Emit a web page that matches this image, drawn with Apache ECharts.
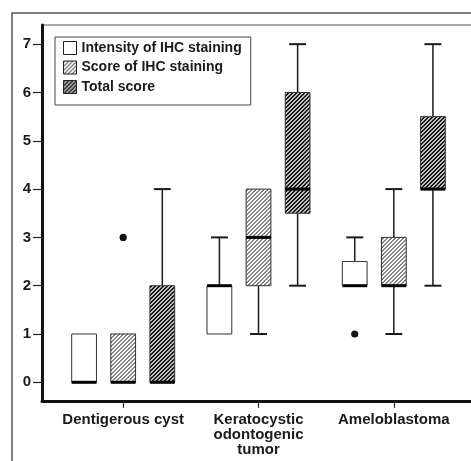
<!DOCTYPE html>
<html><head><meta charset="utf-8">
<script src="https://cdn.jsdelivr.net/npm/echarts@6/dist/echarts.min.js"></script>
<style>html,body{margin:0;padding:0;background:#fff}#c{width:471px;height:461px}</style>
</head><body><div id="c"></div>
<script>
// ---- data ----
const categories = ['Dentigerous cyst', 'Keratocystic\nodontogenic\ntumor', 'Ameloblastoma'];
const seriesNames = ['Intensity of IHC staining', 'Score of IHC staining', 'Total score'];
// each box: [min, Q1, median, Q3, max], one per category
const intensityBox = [[0, 0, 0, 1, 1], [1, 1, 2, 2, 3], [2, 2, 2, 2.5, 3]];
const scoreBox = [[0, 0, 0, 1, 1], [1, 2, 3, 4, 4], [1, 2, 2, 3, 4]];
const totalBox = [[0, 0, 0, 2, 4], [2, 3.5, 4, 6, 7], [2, 4, 4, 5.5, 7]];
// outliers: [category index, value]
const intensityOutliers = [[2, 1]];
const scoreOutliers = [[0, 3]];
const totalOutliers = [];
const xTickValues = [0, 1, 2];
const yTicks = [0, 1, 2, 3, 4, 5, 6, 7];

// ---- styling ----
const FONT = 'Liberation Sans, Arial, sans-serif';
function stripes(dark, light, darkCount, period) {
  const c = document.createElement('canvas');
  c.width = period; c.height = period;
  const ctx = c.getContext('2d');
  for (let x = 0; x < period; x++) for (let y = 0; y < period; y++) {
    ctx.fillStyle = ((x + y) % period) < darkCount ? dark : light;
    ctx.fillRect(x, y, 1, 1);
  }
  return { image: c, repeat: 'repeat' };
}
const fills = ['#ffffff', stripes('#858585', '#ffffff', 2, 4), stripes('#1c1c1c', '#bdbdbd', 2, 4)];
const offsets = [-0.289, 0, 0.289];
const boxW = 0.183, capW = 0.125;

function boxSeries(i, boxes) {
  return {
    type: 'custom', name: seriesNames[i],
    itemStyle: { color: fills[i], borderColor: '#222' },
    encode: { x: 0, y: [1, 2, 3, 4, 5] },
    data: boxes.map((b, k) => [xTickValues[k]].concat(b)),
    renderItem(params, api) {
      const k = api.value(0);
      const unit = api.size([1, 0])[0];
      const cx = api.coord([k, 0])[0] + offsets[i] * unit;
      const hw = boxW * unit / 2, hc = capW * unit / 2;
      const y = j => api.coord([k, api.value(j)])[1];
      const yMin = y(1), yQ1 = y(2), yMed = y(3), yQ3 = y(4), yMax = y(5);
      const ch = [];
      const wl = { stroke: '#1a1a1a', lineWidth: 1.5 };
      const cl = { stroke: '#1a1a1a', lineWidth: 2 };
      if (api.value(5) > api.value(4)) {
        ch.push({ type: 'line', shape: { x1: cx, y1: yQ3, x2: cx, y2: yMax }, style: wl });
        ch.push({ type: 'line', shape: { x1: cx - hc, y1: yMax, x2: cx + hc, y2: yMax }, style: cl });
      }
      if (api.value(1) < api.value(2)) {
        ch.push({ type: 'line', shape: { x1: cx, y1: yQ1, x2: cx, y2: yMin }, style: wl });
        ch.push({ type: 'line', shape: { x1: cx - hc, y1: yMin, x2: cx + hc, y2: yMin }, style: cl });
      }
      ch.push({ type: 'rect', shape: { x: cx - hw, y: yQ3, width: 2 * hw, height: yQ1 - yQ3 },
        style: { fill: fills[i], stroke: '#333', lineWidth: 1 } });
      ch.push({ type: 'line', shape: { x1: cx - hw, y1: yMed, x2: cx + hw, y2: yMed },
        style: { stroke: '#000', lineWidth: 3 } });
      return { type: 'group', children: ch };
    }
  };
}
function outlierSeries(i, pts) {
  return {
    type: 'custom', encode: { x: 0, y: 1 }, data: pts,
    renderItem(params, api) {
      const unit = api.size([1, 0])[0];
      const p = api.coord([api.value(0), api.value(1)]);
      return { type: 'circle', shape: { cx: p[0] + offsets[i] * unit, cy: p[1], r: 3.6 }, style: { fill: '#111' } };
    }
  };
}

const series = [boxSeries(0, intensityBox), boxSeries(1, scoreBox), boxSeries(2, totalBox)];
[intensityOutliers, scoreOutliers, totalOutliers].forEach((o, i) => { if (o.length) series.push(outlierSeries(i, o)); });

const chart = echarts.init(document.getElementById('c'), null, { renderer: 'canvas' });
chart.setOption({
  animation: false,
  backgroundColor: '#fff',
  graphic: [{ type: 'rect', silent: true, shape: { x: 12, y: 13, width: 600, height: 600 },
    style: { fill: 'none', stroke: '#555', lineWidth: 1.5 } }],
  grid: { left: 42, top: 25, right: -30, bottom: 60.2, outerBoundsMode: 'none', containLabel: false,
    show: true, borderColor: '#555', borderWidth: 1 },
  legend: {
    data: seriesNames, orient: 'vertical', left: 55, top: 37, icon: 'rect',
    itemWidth: 13, itemHeight: 13, itemGap: 5.5, padding: [4, 9, 11, 8],
    borderColor: '#444', borderWidth: 1, backgroundColor: '#fff', selectedMode: false,
    itemStyle: { borderColor: '#222', borderWidth: 1 },
    textStyle: { fontFamily: FONT, fontWeight: 'bold', fontSize: 14, color: '#1a1a1a' }
  },
  xAxis: {
    type: 'value', min: -0.6, max: 2.792, splitLine: { show: false },
    axisLine: { show: true, onZero: false, lineStyle: { color: '#111', width: 3 } },
    axisTick: { show: true, customValues: xTickValues, length: 7, lineStyle: { color: '#222', width: 1.2 } },
    axisLabel: { customValues: xTickValues, formatter: v => categories[Math.round(v)], margin: 12,
      fontFamily: FONT, fontWeight: 'bold', fontSize: 15, lineHeight: 15, color: '#1a1a1a' }
  },
  yAxis: {
    type: 'value', min: -0.383, max: 7.397, splitLine: { show: false },
    axisLine: { show: true, onZero: false, lineStyle: { color: '#111', width: 3 } },
    axisTick: { show: true, customValues: yTicks, length: 9, lineStyle: { color: '#222', width: 1.2 } },
    axisLabel: { customValues: yTicks, margin: 11, fontFamily: FONT, fontWeight: 'bold', fontSize: 15, color: '#1a1a1a' }
  },
  series: series
});
</script></body></html>
